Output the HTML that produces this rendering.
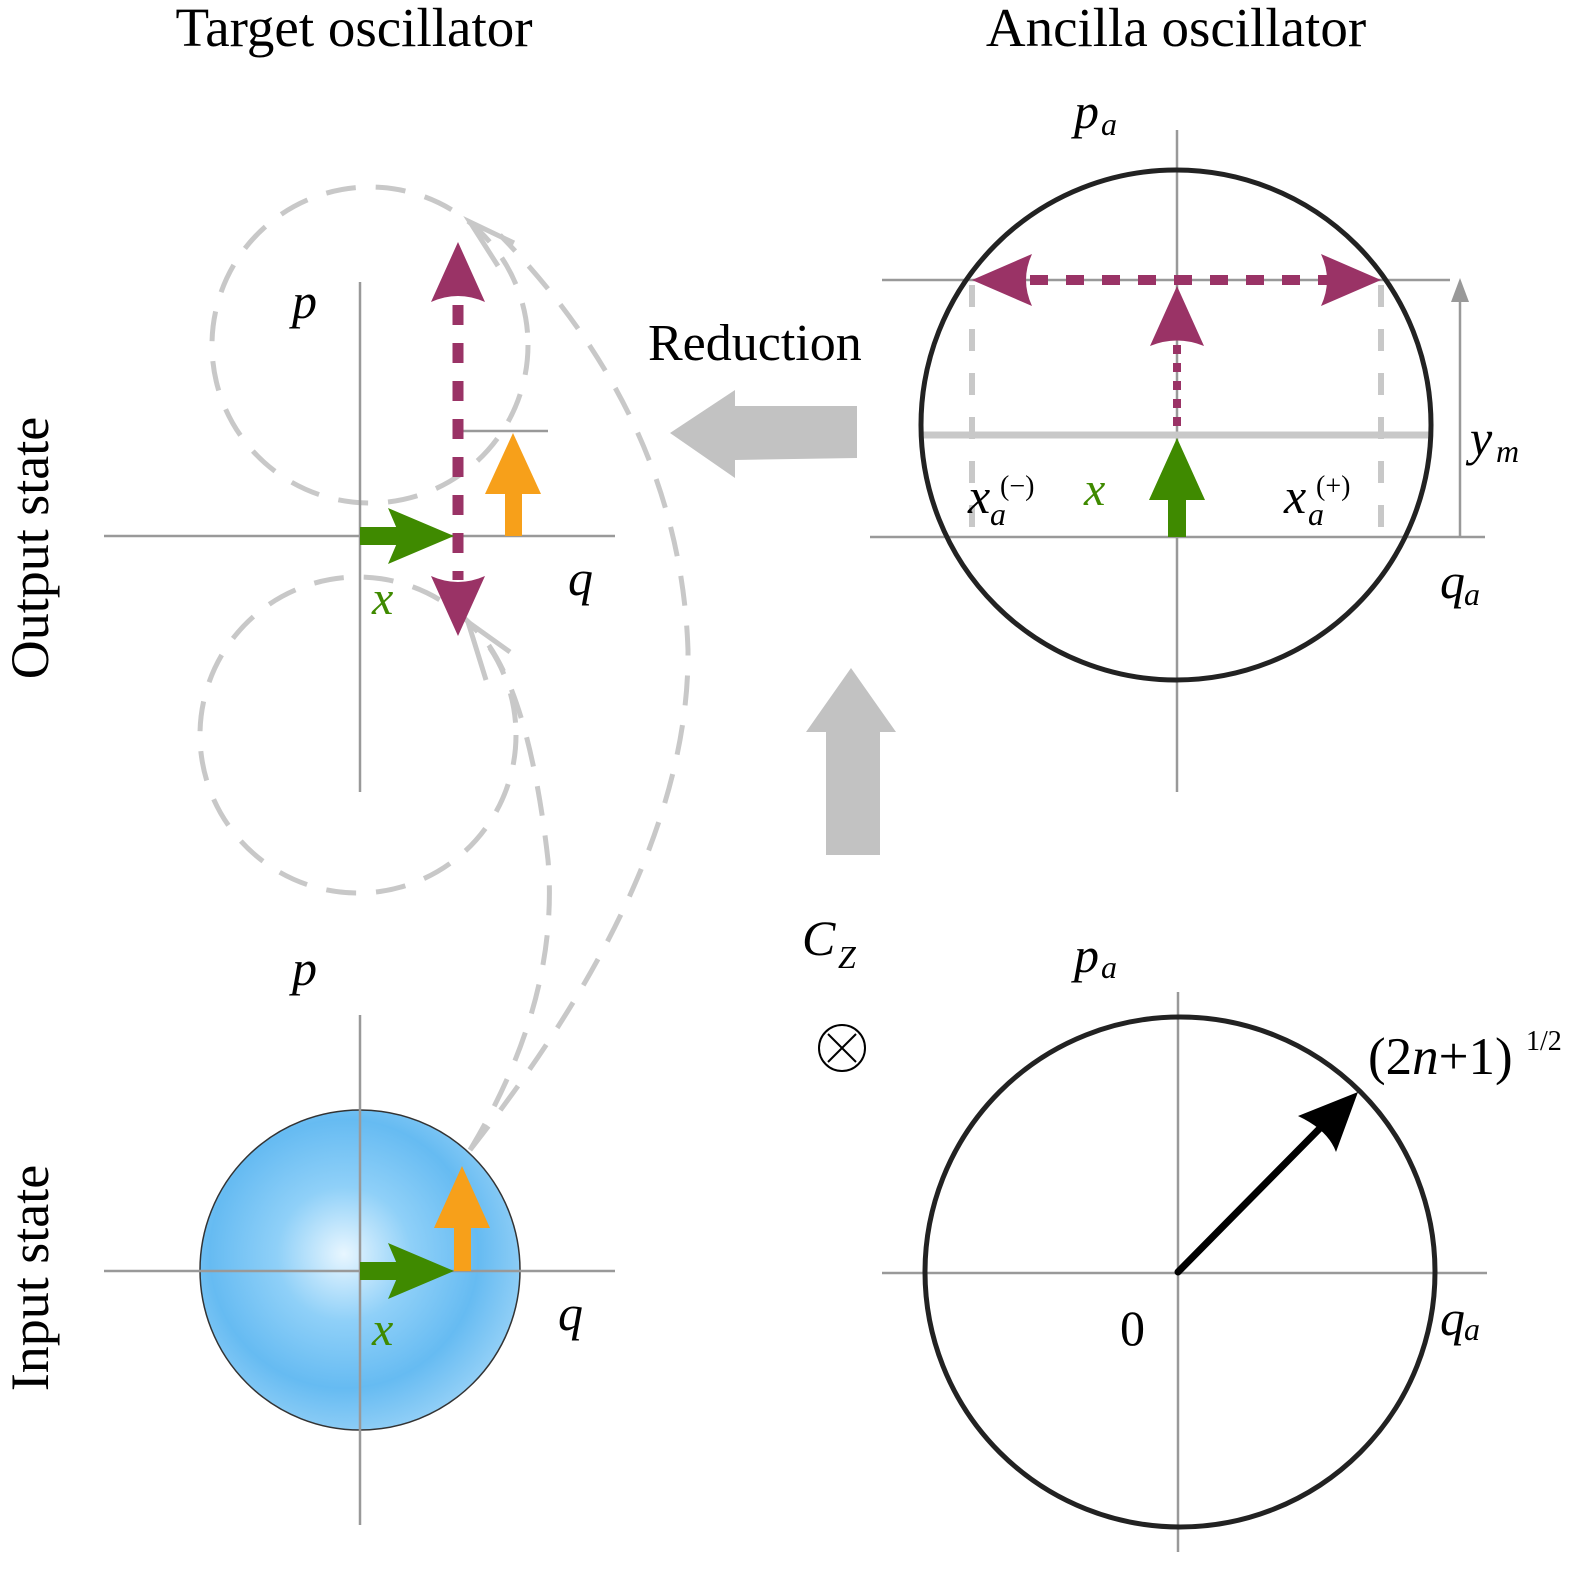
<!DOCTYPE html>
<html><head><meta charset="utf-8"><style>
html,body{margin:0;padding:0;background:#fff;}
svg{display:block;}
text{font-family:"Liberation Serif",serif;}
.i{font-style:italic;}
</style></head><body>
<svg width="1583" height="1569" viewBox="0 0 1583 1569" xmlns="http://www.w3.org/2000/svg">
<defs>
<radialGradient id="bg" cx="0.45" cy="0.45" r="0.6">
<stop offset="0" stop-color="#e8f6ff"/>
<stop offset="0.35" stop-color="#8fd0f8"/>
<stop offset="0.7" stop-color="#66bbf2"/>
<stop offset="1" stop-color="#9ad3f7"/>
</radialGradient>
</defs>
<text x="354" y="46" font-size="55" text-anchor="middle">Target oscillator</text>
<text x="1176" y="46" font-size="55" text-anchor="middle">Ancilla oscillator</text>
<text transform="translate(48,548) rotate(-90)" font-size="54" text-anchor="middle">Output state</text>
<text transform="translate(48,1278) rotate(-90)" font-size="54" text-anchor="middle">Input state</text>

<g fill="none" stroke="#c8c8c8" stroke-width="5" stroke-dasharray="30,20">
<circle cx="370" cy="345" r="158"/>
<circle cx="358" cy="735" r="158"/>
<path d="M470,1150 Q690,870 688,650 Q680,420 500,235"/>
<path d="M470,1150 Q560,1000 548,860 Q530,700 485,640"/>
</g>
<g fill="none" stroke="#c8c8c8" stroke-width="5">
<path d="M514,243 L470,222 L498,266"/>
<path d="M510,652 L468,622 L486,680"/>
</g>

<g stroke="#999" stroke-width="2.5">
<line x1="104" y1="536" x2="615" y2="536"/>
<line x1="360" y1="282" x2="360" y2="792"/>
<line x1="458" y1="431" x2="548" y2="431"/>
</g>
<text x="292" y="318" font-size="50" class="i">p</text>
<text x="568" y="595" font-size="50" class="i">q</text>
<text x="372" y="614" font-size="48" class="i" fill="#3f8a00">x</text>
<line x1="458" y1="305" x2="458" y2="580" stroke="#9a3366" stroke-width="11" stroke-dasharray="20,18"/>
<path d="M458,242 L485,302 Q458,290 431,302 Z" fill="#9a3366"/>
<path d="M458,636 L485,576 Q458,588 431,576 Z" fill="#9a3366"/>
<rect x="360" y="527" width="60" height="18" fill="#3f8a00"/>
<path d="M454,536 L388,508 L400,536 L388,564 Z" fill="#3f8a00"/>
<rect x="505" y="480" width="17" height="56" fill="#f7a01a"/>
<path d="M513,433 L541,494 L485,494 Z" fill="#f7a01a"/>

<text x="648" y="360" font-size="52">Reduction</text>
<path d="M857,406 L735,406 L735,390 L670,433 L735,478 L735,460 L857,458 Z" fill="#c2c2c2"/>
<path d="M826,855 L826,732 L806,732 L851,668 L896,732 L880,732 L880,855 Z" fill="#c2c2c2"/>
<text x="802" y="955" font-size="50" class="i">C</text>
<text x="838" y="968" font-size="32" class="i">Z</text>
<circle cx="842" cy="1048" r="23" fill="none" stroke="#000" stroke-width="2"/>
<path d="M828,1034 L856,1062 M856,1034 L828,1062" stroke="#000" stroke-width="2"/>

<g stroke="#999" stroke-width="2.5">
<line x1="882" y1="280" x2="1450" y2="280"/>
<line x1="870" y1="537" x2="1485" y2="537"/>
<line x1="1177" y1="130" x2="1177" y2="792"/>
<line x1="1460" y1="537" x2="1460" y2="290"/>
</g>
<path d="M1460,278 L1451,302 L1469,302 Z" fill="#999"/>
<line x1="922" y1="435" x2="1430" y2="435" stroke="#c8c8c8" stroke-width="7"/>
<g stroke="#c8c8c8" stroke-width="6" stroke-dasharray="22,22">
<line x1="972" y1="285" x2="972" y2="537"/>
<line x1="1381" y1="285" x2="1381" y2="537"/>
</g>
<circle cx="1176" cy="425" r="255" fill="none" stroke="#222" stroke-width="5"/>
<line x1="1030" y1="280" x2="1330" y2="280" stroke="#9a3366" stroke-width="10" stroke-dasharray="18,18"/>
<path d="M972,280 L1032,254 Q1020,280 1032,306 Z" fill="#9a3366"/>
<path d="M1381,280 L1321,254 Q1333,280 1321,306 Z" fill="#9a3366"/>
<line x1="1177" y1="345" x2="1177" y2="432" stroke="#9a3366" stroke-width="8" stroke-dasharray="9,9"/>
<path d="M1177,286 L1204,346 Q1177,335 1150,346 Z" fill="#9a3366"/>
<rect x="1168" y="495" width="18" height="42" fill="#3f8a00"/>
<path d="M1177,438 L1205,500 L1149,500 Z" fill="#3f8a00"/>
<text x="1074" y="128" font-size="50" class="i">p</text><text x="1101" y="135" font-size="32" class="i">a</text>
<text x="1440" y="598" font-size="50" class="i">q</text><text x="1464" y="605" font-size="32" class="i">a</text>
<text x="1470" y="455" font-size="50" class="i">y</text><text x="1496" y="462" font-size="32" class="i">m</text>
<text x="1084" y="505" font-size="48" class="i" fill="#3f8a00">x</text>
<text x="968" y="513" font-size="50" class="i">x</text><text x="990" y="525" font-size="32" class="i">a</text><text x="1000" y="495" font-size="28">(−)</text>
<text x="1284" y="513" font-size="50" class="i">x</text><text x="1308" y="525" font-size="32" class="i">a</text><text x="1316" y="495" font-size="28">(+)</text>

<circle cx="360" cy="1270" r="160" fill="url(#bg)" stroke="#333" stroke-width="1.5"/>
<g stroke="#999" stroke-width="2.5">
<line x1="104" y1="1271" x2="615" y2="1271"/>
<line x1="360" y1="1015" x2="360" y2="1525"/>
</g>
<rect x="360" y="1262" width="60" height="18" fill="#3f8a00"/>
<path d="M454,1271 L388,1243 L400,1271 L388,1299 Z" fill="#3f8a00"/>
<rect x="454" y="1215" width="17" height="56" fill="#f7a01a"/>
<path d="M462,1166 L490,1228 L434,1228 Z" fill="#f7a01a"/>
<text x="292" y="985" font-size="50" class="i">p</text>
<text x="558" y="1330" font-size="50" class="i">q</text>
<text x="372" y="1345" font-size="48" class="i" fill="#3f8a00">x</text>

<g stroke="#999" stroke-width="2.5">
<line x1="882" y1="1273" x2="1487" y2="1273"/>
<line x1="1178" y1="992" x2="1178" y2="1552"/>
</g>
<circle cx="1180" cy="1272" r="255" fill="none" stroke="#222" stroke-width="5"/>
<line x1="1178" y1="1272" x2="1330" y2="1118" stroke="#000" stroke-width="7" stroke-linecap="round"/>
<path d="M1358,1092 L1336,1152 Q1328,1130 1298,1116 Z" fill="#000"/>
<text x="1074" y="972" font-size="50" class="i">p</text><text x="1101" y="978" font-size="32" class="i">a</text>
<text x="1440" y="1335" font-size="50" class="i">q</text><text x="1464" y="1340" font-size="32" class="i">a</text>
<text x="1120" y="1345" font-size="50">0</text>
<text x="1368" y="1074" font-size="53">(2<tspan class="i">n</tspan>+1)</text>
<text x="1526" y="1050" font-size="28">1/2</text>
</svg>
</body></html>
